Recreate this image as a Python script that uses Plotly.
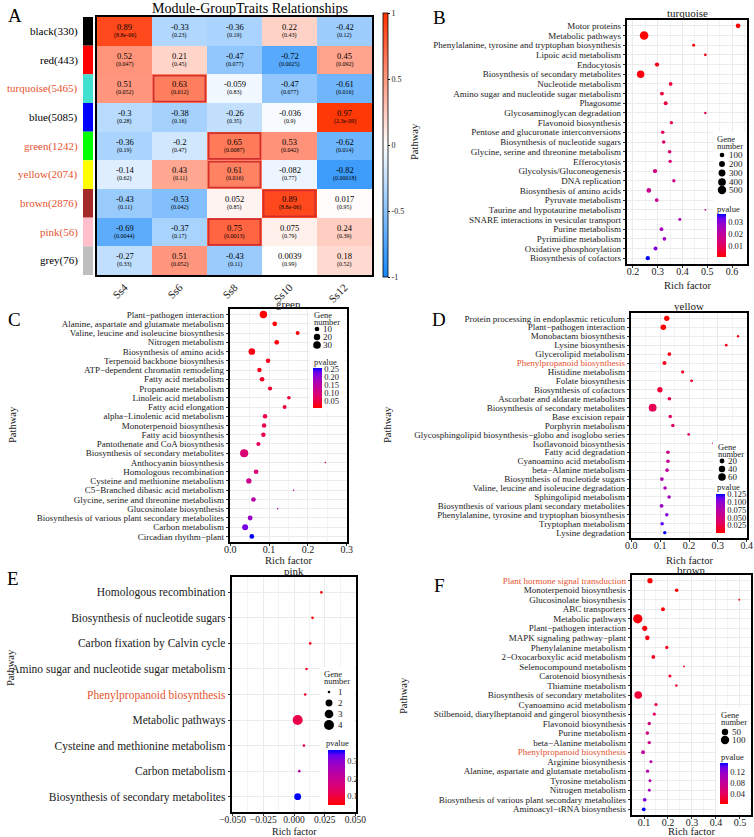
import plotly.graph_objects as go

# ====================== DATA ======================
# Panel A: module-trait correlation heatmap
modules = ["black", "red", "turquoise", "blue", "green", "yellow", "brown", "pink", "grey"]
module_genes = [330, 443, 5465, 5085, 1242, 2074, 2876, 56, 76]
orange_modules = ["turquoise", "green", "yellow", "brown", "pink"]
traits = ["Ss4", "Ss6", "Ss8", "Ss10", "Ss12"]
corr = [
    [0.89, -0.33, -0.36, 0.22, -0.42],
    [0.52, 0.21, -0.47, -0.72, 0.45],
    [0.51, 0.63, -0.059, -0.47, -0.61],
    [-0.3, -0.38, -0.26, -0.036, 0.97],
    [-0.36, -0.2, 0.65, 0.53, -0.62],
    [-0.14, 0.43, 0.61, -0.082, -0.82],
    [-0.43, -0.53, 0.052, 0.89, 0.017],
    [-0.69, -0.37, 0.75, 0.075, 0.24],
    [-0.27, 0.51, -0.43, 0.0039, 0.18],
]
corr_p = [
    [8.8e-06, 0.23, 0.19, 0.43, 0.12],
    [0.047, 0.45, 0.077, 0.0025, 0.092],
    [0.052, 0.012, 0.83, 0.077, 0.016],
    [0.28, 0.16, 0.35, 0.9, 2.3e-09],
    [0.19, 0.47, 0.0087, 0.042, 0.014],
    [0.62, 0.11, 0.016, 0.77, 0.00018],
    [0.11, 0.042, 0.85, 8.8e-06, 0.95],
    [0.0044, 0.17, 0.0013, 0.79, 0.39],
    [0.33, 0.052, 0.11, 0.99, 0.52],
]
boxed_cells = [("turquoise", "Ss6"), ("green", "Ss8"), ("yellow", "Ss8"), ("brown", "Ss10"), ("pink", "Ss8")]
hm_ticks = [1, 0.5, 0, -0.5, -1]
hm_ticktext = ["1", "0.5", "0", "-0.5", "-1"]

# Panel B: turquoise
B_pathways = ["Motor proteins", "Metabolic pathways", "Phenylalanine, tyrosine and tryptophan biosynthesis",
              "Lipoic acid metabolism", "Endocytosis", "Biosynthesis of secondary metabolites",
              "Nucleotide metabolism", "Amino sugar and nucleotide sugar metabolism", "Phagosome",
              "Glycosaminoglycan degradation", "Flavonoid biosynthesis", "Pentose and glucuronate interconversions",
              "Biosynthesis of nucleotide sugars", "Glycine, serine and threonine metabolism", "Efferocytosis",
              "Glycolysis/Gluconeogenesis", "DNA replication", "Biosynthesis of amino acids", "Pyruvate metabolism",
              "Taurine and hypotaurine metabolism", "SNARE interactions in vesicular transport", "Purine metabolism",
              "Pyrimidine metabolism", "Oxidative phosphorylation", "Biosynthesis of cofactors"]
B_rich = [0.624, 0.245, 0.445, 0.492, 0.297, 0.231, 0.352, 0.317, 0.332, 0.492, 0.355, 0.32, 0.324, 0.348,
          0.35, 0.289, 0.365, 0.264, 0.296, 0.492, 0.389, 0.315, 0.327, 0.291, 0.26]
B_genes = [100, 520, 25, 20, 80, 360, 50, 60, 60, 15, 35, 45, 45, 45, 40, 80, 35, 100, 55, 10, 25, 55, 50, 60, 80]
B_pvalue = [0.0005, 0.0006, 0.002, 0.003, 0.003, 0.002, 0.006, 0.006, 0.007, 0.008, 0.009, 0.010, 0.011, 0.012,
            0.013, 0.015, 0.016, 0.018, 0.019, 0.020, 0.024, 0.025, 0.027, 0.030, 0.037]
B_orange = []
B_size_breaks = [100, 200, 300, 400, 500]
B_pv_ticks = [0.01, 0.02, 0.03]

# Panel C: green
C_pathways = ["Plant\u2212pathogen interaction", "Alanine, aspartate and glutamate metabolism",
              "Valine, leucine and isoleucine biosynthesis", "Nitrogen metabolism", "Biosynthesis of amino acids",
              "Terpenoid backbone biosynthesis", "ATP\u2212dependent chromatin remodeling", "Fatty acid metabolism",
              "Propanoate metabolism", "Linoleic acid metabolism", "Fatty acid elongation",
              "alpha\u2212Linolenic acid metabolism", "Monoterpenoid biosynthesis", "Fatty acid biosynthesis",
              "Pantothenate and CoA biosynthesis", "Biosynthesis of secondary metabolites",
              "Anthocyanin biosynthesis", "Homologous recombination", "Cysteine and methionine metabolism",
              "C5\u2212Branched dibasic acid metabolism", "Glycine, serine and threonine metabolism",
              "Glucosinolate biosynthesis", "Biosynthesis of various plant secondary metabolites",
              "Carbon metabolism", "Circadian rhythm\u2212plant"]
C_rich = [0.0854, 0.1146, 0.1735, 0.1197, 0.0556, 0.0974, 0.0752, 0.082, 0.1026, 0.151, 0.140, 0.0897, 0.0872,
          0.0854, 0.0726, 0.0359, 0.245, 0.0667, 0.048, 0.163, 0.0598, 0.122, 0.0513, 0.0385, 0.0556]
C_genes = [28, 10, 7, 10, 22, 9, 9, 10, 8, 6, 7, 9, 9, 9, 8, 35, 3, 10, 13, 3, 10, 3, 11, 17, 10]
C_pvalue = [0.005, 0.008, 0.012, 0.015, 0.018, 0.022, 0.026, 0.03, 0.035, 0.04, 0.044, 0.05, 0.055, 0.06, 0.065,
            0.09, 0.08, 0.095, 0.12, 0.14, 0.15, 0.17, 0.19, 0.22, 0.256]
C_orange = []
C_size_breaks = [10, 20, 30]
C_pv_ticks = [0.05, 0.10, 0.15, 0.20, 0.25]

# Panel D: yellow
D_pathways = ["Protein processing in endoplasmic reticulum", "Plant\u2212pathogen interaction",
              "Monobactam biosynthesis", "Lysine biosynthesis", "Glycerolipid metabolism",
              "Phenylpropanoid biosynthesis", "Histidine metabolism", "Folate biosynthesis",
              "Biosynthesis of cofactors", "Ascorbate and aldarate metabolism",
              "Biosynthesis of secondary metabolites", "Base excision repair", "Porphyrin metabolism",
              "Glycosphingolipid biosynthesis\u2212globo and isoglobo series", "Isoflavonoid biosynthesis",
              "Fatty acid degradation", "Cyanoamino acid metabolism", "beta\u2212Alanine metabolism",
              "Biosynthesis of nucleotide sugars", "Valine, leucine and isoleucine degradation",
              "Sphingolipid metabolism", "Biosynthesis of various plant secondary metabolites",
              "Phenylalanine, tyrosine and tryptophan biosynthesis", "Tryptophan metabolism", "Lysine degradation"]
D_rich = [0.123, 0.111, 0.37, 0.329, 0.132, 0.115, 0.178, 0.209, 0.099, 0.132, 0.074, 0.135, 0.144, 0.199,
          0.283, 0.127, 0.127, 0.124, 0.106, 0.117, 0.131, 0.105, 0.123, 0.107, 0.116]
D_genes = [25, 28, 3, 4, 10, 12, 6, 5, 25, 9, 65, 8, 8, 4, 2, 9, 9, 9, 10, 8, 8, 10, 8, 8, 7]
D_pvalue = [0.001, 0.002, 0.005, 0.008, 0.01, 0.012, 0.015, 0.018, 0.02, 0.025, 0.03, 0.035, 0.038, 0.04, 0.045,
            0.055, 0.06, 0.065, 0.08, 0.082, 0.088, 0.095, 0.1, 0.115, 0.126]
D_orange = ["Phenylpropanoid biosynthesis"]
D_size_breaks = [20, 40, 60]
D_pv_ticks = [0.025, 0.050, 0.075, 0.100, 0.125]

# Panel E: pink
E_pathways = ["Homologous recombination", "Biosynthesis of nucleotide sugars", "Carbon fixation by Calvin cycle",
              "Amino sugar and nucleotide sugar metabolism", "Phenylpropanoid biosynthesis", "Metabolic pathways",
              "Cysteine and methionine metabolism", "Carbon metabolism", "Biosynthesis of secondary metabolites"]
E_rich = [0.0223, 0.0151, 0.0132, 0.0102, 0.0091, 0.003, 0.0081, 0.0043, 0.003]
E_genes = [1, 1, 1, 1, 1, 4, 1, 1, 2]
E_pvalue = [0.05, 0.06, 0.07, 0.08, 0.085, 0.11, 0.1, 0.23, 0.363]
E_orange = ["Phenylpropanoid biosynthesis"]
E_size_breaks = [1, 2, 3, 4]
E_pv_ticks = [0.1, 0.2, 0.3]

# Panel F: brown
F_pathways = ["Plant hormone signal transduction", "Monoterpenoid biosynthesis", "Glucosinolate biosynthesis",
              "ABC transporters", "Metabolic pathways", "Plant\u2212pathogen interaction",
              "MAPK signaling pathway\u2212plant", "Phenylalanine metabolism",
              "2\u2212Oxocarboxylic acid metabolism", "Selenocompound metabolism", "Carotenoid biosynthesis",
              "Thiamine metabolism", "Biosynthesis of secondary metabolites", "Cyanoamino acid metabolism",
              "Stilbenoid, diarylheptanoid and gingerol biosynthesis", "Flavonoid biosynthesis",
              "Purine metabolism", "beta\u2212Alanine metabolism", "Phenylpropanoid biosynthesis",
              "Arginine biosynthesis", "Alanine, aspartate and glutamate metabolism", "Tyrosine metabolism",
              "Nitrogen metabolism", "Biosynthesis of various plant secondary metabolites",
              "Aminoacyl\u2212tRNA biosynthesis"]
F_rich = [0.125, 0.236, 0.497, 0.179, 0.074, 0.103, 0.114, 0.195, 0.139, 0.267, 0.208, 0.235, 0.076, 0.15,
          0.143, 0.122, 0.114, 0.122, 0.096, 0.129, 0.115, 0.125, 0.122, 0.103, 0.099]
F_genes = [30, 10, 3, 14, 130, 28, 20, 8, 12, 3, 7, 4, 80, 8, 8, 9, 10, 9, 13, 6, 8, 6, 6, 11, 11]
F_pvalue = [0.001, 0.002, 0.003, 0.005, 0.006, 0.008, 0.01, 0.012, 0.015, 0.018, 0.02, 0.022, 0.024, 0.035,
            0.04, 0.06, 0.065, 0.07, 0.08, 0.09, 0.095, 0.1, 0.105, 0.13, 0.154]
F_orange = ["Plant hormone signal transduction", "Phenylpropanoid biosynthesis"]
F_size_breaks = [50, 100]
F_pv_ticks = [0.04, 0.08, 0.12]

# ====================== STYLE / LAYOUT ======================
W, H = 754, 837
SERIF = "Liberation Serif"
ORANGE = "#E4532F"
TXT = "#1A1A1A"
MODULE_COLORS = {"black": "#000000", "red": "#FF0000", "turquoise": "#40E0D0", "blue": "#0000FF",
                 "green": "#00FF00", "yellow": "#FFFF00", "brown": "#A52A2A", "pink": "#FFC0CB",
                 "grey": "#BEBEBE"}
HM_SCALE = [[0, "rgb(20,135,250)"], [0.5, "rgb(255,255,255)"], [1, "rgb(255,50,0)"]]
PV_SCALE = [[0, "#FF0000"], [0.25, "#E4005E"], [0.5, "#C50096"], [0.75, "#9A00C8"], [0.9, "#6A00EE"],
            [1, "#0000FF"]]


def fx(x):
    return x / W


def fy(y):
    return 1 - y / H


def font(size, color=TXT):
    return dict(family=SERIF, size=size, color=color)


fig = go.Figure()
shapes = []
annotations = []


def ann(x, y, text, size, color=TXT, xanchor="center", yanchor="middle", xref="paper", yref="paper", **kw):
    if xref == "paper":
        x = fx(x)
    if yref == "paper":
        y = fy(y)
    annotations.append(dict(x=x, y=y, xref=xref, yref=yref, text=text, showarrow=False, xanchor=xanchor,
                            yanchor=yanchor, font=font(size, color), borderpad=0, **kw))


layout = dict(width=W, height=H, margin=dict(l=0, r=0, t=0, b=0), template="none",
              paper_bgcolor="white", plot_bgcolor="white", showlegend=False)

# ---------- Panel A ----------
HM = dict(L=97, T=17, R=372, B=275)
fig.add_trace(go.Heatmap(z=corr, x=traits, y=modules, coloraxis="coloraxis", hoverinfo="skip",
                         xaxis="x", yaxis="y"))
layout["xaxis"] = dict(domain=[fx(HM["L"]), fx(HM["R"])], anchor="y", type="category", tickangle=-45,
                       tickfont=font(11), ticks="", showline=True, mirror=True, linecolor="black",
                       linewidth=1.5, showgrid=False, zeroline=False, automargin=False)
layout["yaxis"] = dict(domain=[fy(HM["B"]), fy(HM["T"])], anchor="x", type="category", autorange="reversed",
                       showticklabels=False, ticks="", showline=True, mirror=True, linecolor="black",
                       linewidth=1.5, showgrid=False, zeroline=False, automargin=False)
layout["coloraxis"] = dict(colorscale=HM_SCALE, cmin=-1, cmax=1,
                           colorbar=dict(x=fx(383), xanchor="left", xpad=0, y=fy(13), yanchor="top", ypad=0,
                                         len=264, lenmode="pixels", thickness=5, thicknessmode="pixels",
                                         outlinewidth=0.8, outlinecolor="black", tickvals=hm_ticks,
                                         ticktext=hm_ticktext, ticks="outside", ticklen=2, tickwidth=0.8,
                                         tickcolor="black", tickfont=font(8), title=dict(text="")))

for i, m in enumerate(modules):
    for j, t in enumerate(traits):
        ann(t, m, f"{corr[i][j]:g}", 8.5, "black", xref="x", yref="y", yshift=4.5)
        ann(t, m, f"({corr_p[i][j]:g})", 6, "black", xref="x", yref="y", yshift=-4)
    ann(79, m, f"{m}({module_genes[i]})", 11, ORANGE if m in orange_modules else "black",
        xanchor="right", yref="y")
    shapes.append(dict(type="rect", xref="paper", yref="y", x0=fx(83), x1=fx(93), y0=i - 0.5, y1=i + 0.5,
                       fillcolor=MODULE_COLORS[m], line=dict(width=0), layer="above"))

for m, t in boxed_cells:
    i, j = modules.index(m), traits.index(t)
    shapes.append(dict(type="rect", xref="x", yref="y", x0=j - 0.47, x1=j + 0.47, y0=i - 0.45, y1=i + 0.45,
                       line=dict(color="#D32F2F", width=1.6), layer="above"))

ann(250, 8, "Module-GroupTraits Relationships", 14, "black")
ann(15, 16, "A", 19, "black")

# ---------- dot panels ----------
PANELS = [
    dict(idx=2, letter="B", title="turquoise", data=(B_pathways, B_rich, B_genes, B_pvalue), hl=B_orange,
         breaks=B_size_breaks, pvt=B_pv_ticks, pvfmt=".2f",
         box=(627, 20, 747, 264), xr=(0.176, 0.66), dtick=0.1, fmt=".1f", ylab=9, title_y=13,
         letter_xy=(439, 18), path_x=415, path_y=142, rich_y=285, dmin=1.8, dmax=8.6,
         gene_t=(716, 139), gene_x=722, gene_ys=[155, 164, 173, 182, 190], gene_lx=728,
         pv_t=(716, 209), cbar=(717, 214, 257, 9), lbox=(713, 132, 746, 261)),
    dict(idx=3, letter="C", title="green", data=(C_pathways, C_rich, C_genes, C_pvalue), hl=C_orange,
         breaks=C_size_breaks, pvt=C_pv_ticks, pvfmt=".2f",
         box=(230, 309, 347, 542), xr=(-0.0005, 0.3005), dtick=0.1, fmt=".1f", ylab=9, title_y=304,
         letter_xy=(14, 319), path_x=12, path_y=425, rich_y=560, dmin=1.6, dmax=8.2,
         gene_t=(313, 315), gene_x=317, gene_ys=[329, 337, 345], gene_lx=322,
         pv_t=(313, 362), cbar=(313, 368, 408, 9), lbox=(310, 310, 345, 411)),
    dict(idx=4, letter="D", title="yellow", data=(D_pathways, D_rich, D_genes, D_pvalue), hl=D_orange,
         breaks=D_size_breaks, pvt=D_pv_ticks, pvfmt=".3f",
         box=(631, 313, 747, 538), xr=(-0.001, 0.401), dtick=0.1, fmt=".1f", ylab=9, title_y=306,
         letter_xy=(439, 319), path_x=387, path_y=425, rich_y=560, dmin=1.6, dmax=7.8,
         gene_t=(717, 447), gene_x=722, gene_ys=[461, 469, 477], gene_lx=727,
         pv_t=(716, 487), cbar=(716, 494, 533, 9), lbox=(713, 441, 746, 536)),
    dict(idx=5, letter="E", title="pink", data=(E_pathways, E_rich, E_genes, E_pvalue), hl=E_orange,
         breaks=E_size_breaks, pvt=E_pv_ticks, pvfmt=".1f",
         box=(232, 577, 356, 812), xr=(-0.0505, 0.0505), dtick=0.025, fmt=".3f", ylab=11.5, title_y=571,
         letter_xy=(13, 578), path_x=10, path_y=668, rich_y=831, dmin=2.6, dmax=10,
         gene_t=(323, 674), gene_x=329, gene_ys=[692, 703, 714, 725], gene_lx=337,
         pv_t=(325, 743), cbar=(328, 750, 805, 17), lbox=(320, 667, 354, 809)),
    dict(idx=6, letter="F", title="brown", data=(F_pathways, F_rich, F_genes, F_pvalue), hl=F_orange,
         breaks=F_size_breaks, pvt=F_pv_ticks, pvfmt=".2f",
         box=(632, 575, 751, 815), xr=(0.05, 0.546), dtick=0.1, fmt=".1f", ylab=9, title_y=570,
         letter_xy=(439, 585), path_x=403, path_y=695, rich_y=831, dmin=1.8, dmax=9.3,
         gene_t=(720, 715), gene_x=725, gene_ys=[732, 740], gene_lx=731,
         pv_t=(720, 757), cbar=(720, 763, 804, 8), lbox=(716, 708, 750, 812)),
]

for P in PANELS:
    k = P["idx"]
    names, rich, genes, pv = P["data"]
    n = len(names)
    gmin, gmax = min(genes), max(genes)

    def diam(g, P=P, gmin=gmin, gmax=gmax):
        return P["dmin"] + (P["dmax"] - P["dmin"]) * ((g - gmin) / (gmax - gmin)) ** 0.5

    fig.add_trace(go.Scatter(x=rich, y=names, mode="markers", xaxis=f"x{k}", yaxis=f"y{k}",
                             marker=dict(size=[diam(g) for g in genes], color=pv, coloraxis=f"coloraxis{k}",
                                         line=dict(width=0), opacity=1),
                             hoverinfo="skip", showlegend=False))
    L, T, R, B = P["box"]
    layout[f"xaxis{k}"] = dict(domain=[fx(L), fx(R)], anchor=f"y{k}", range=list(P["xr"]), tick0=0,
                               dtick=P["dtick"], tickformat=P["fmt"], showgrid=True, gridcolor="#EBEBEB",
                               gridwidth=0.8, minor=dict(dtick=P["dtick"] / 2, showgrid=True,
                                                         gridcolor="#F3F3F3", gridwidth=0.5),
                               showline=True, mirror=True, linecolor="black", linewidth=1.5, zeroline=False,
                               ticks="outside", ticklen=2.5, tickwidth=0.8, tickcolor="#333333",
                               ticklabelstandoff=-5, ticklabeloverflow="allow",
                               tickfont=font(10 if k != 5 else 9.5), automargin=False)
    ticktext = [f"<span style='color:{ORANGE}'>{nm}</span>" if nm in P["hl"] else nm for nm in names]
    layout[f"yaxis{k}"] = dict(domain=[fy(B), fy(T)], anchor=f"x{k}", type="category", categoryorder="array",
                               categoryarray=names, range=[n - 0.4, -0.6], tickvals=names, ticktext=ticktext,
                               showgrid=True, gridcolor="#EBEBEB", gridwidth=0.8, showline=True, mirror=True,
                               linecolor="black", linewidth=1.5, zeroline=False, ticks="outside", ticklen=2.5,
                               tickwidth=0.8, tickcolor="#333333", tickfont=font(P["ylab"]), automargin=False)
    cx0, cy0, cy1, cw = P["cbar"]
    layout[f"coloraxis{k}"] = dict(colorscale=PV_SCALE,
                                   colorbar=dict(x=fx(cx0), xanchor="left", xpad=0, y=fy(cy0), yanchor="top",
                                                 ypad=0, len=cy1 - cy0, lenmode="pixels", thickness=cw,
                                                 thicknessmode="pixels", outlinewidth=0, tickvals=P["pvt"],
                                                 tickformat=P["pvfmt"], ticks="", tickfont=font(8.5),
                                                 title=dict(text="")))
    # titles and labels
    ann((L + R) / 2, P["title_y"], P["title"], 11)
    ann(P["letter_xy"][0], P["letter_xy"][1], P["letter"], 19, "black")
    ann(P["path_x"], P["path_y"], "Pathway", 10.5, textangle=-90)
    ann((L + R) / 2, P["rich_y"], "Rich factor", 10.5 if k != 5 else 10)
    # legend background
    lx0, ly0, lx1, ly1 = P["lbox"]
    shapes.append(dict(type="rect", xref="paper", yref="paper", x0=fx(lx0), x1=fx(lx1), y0=fy(ly1), y1=fy(ly0),
                       fillcolor="white", line=dict(width=0), layer="above"))
    gx, gy = P["gene_t"]
    ann(gx, gy, "Gene", 8.5, xanchor="left")
    ann(gx, gy + 7, "number", 8.5, xanchor="left")
    for b, yy in zip(P["breaks"], P["gene_ys"]):
        d = diam(b)
        shapes.append(dict(type="circle", xref="paper", yref="paper", x0=fx(P["gene_x"] - d / 2),
                           x1=fx(P["gene_x"] + d / 2), y0=fy(yy + d / 2), y1=fy(yy - d / 2),
                           fillcolor="black", line=dict(width=0), layer="above"))
        ann(P["gene_lx"], yy, str(b), 9, xanchor="left")
    px_, py_ = P["pv_t"]
    ann(px_, py_, "pvalue", 8.5, xanchor="left")

layout["shapes"] = shapes
layout["annotations"] = annotations
fig.update_layout(**layout)
fig.write_html("out.html")
